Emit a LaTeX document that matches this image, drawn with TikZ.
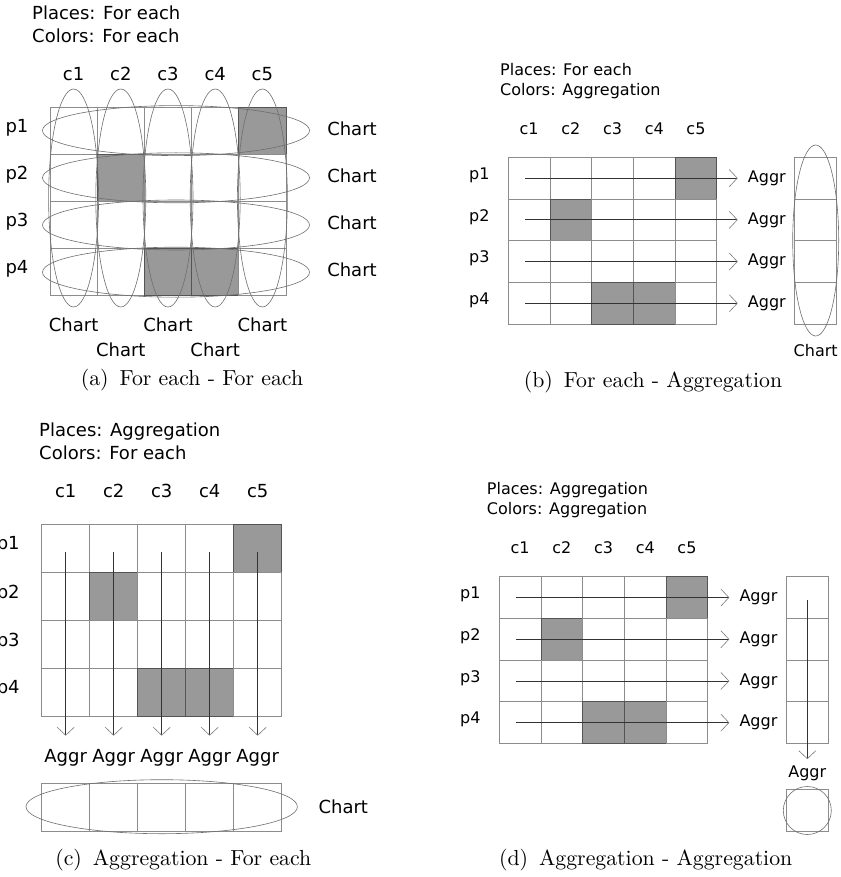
\documentclass[tikz,border=0pt]{standalone}
\usepackage{fontspec}
\newfontfamily\dvs{DejaVu Sans}
\newfontfamily\capfont{lmroman10-regular}[Extension=.otf]
\usetikzlibrary{arrows.meta}
\definecolor{cshade}{HTML}{999999}
\definecolor{cring}{HTML}{6E6E6E}
\definecolor{cgrey}{HTML}{7A7A7A}
\definecolor{cdark}{HTML}{333333}
\tikzset{
  every picture/.style={x=1pt, y=-1pt},
  cell/.style={draw=#1!55!black, fill=#1, line width=0.9pt, inner sep=0pt},
  lbl/.style={font=\dvs\fontsize{18}{23}\selectfont, inner sep=0pt},
  panelsmall/.style={lbl/.append style={font=\dvs\fontsize{16}{20}\selectfont}},
  head/.style={lbl, align=left, anchor=west},
  ring/.style={draw=cring, line width=0.6pt},
  arrow/.style={-{Straight Barb[length=8pt, width=17pt, color=cgrey, line width=0.6pt]}, draw=cdark, line width=0.8pt},
  caption/.style={font=\capfont\fontsize{21.8}{24}\selectfont, inner sep=0pt},
}
\newcommand{\pgrid}[2]{% prefix, cell size
  \foreach \r/\row in {1/{white,white,white,white,cshade}, 2/{white,cshade,white,white,white},
                       3/{white,white,white,white,white}, 4/{white,white,cshade,cshade,white}}
    \foreach \f [count=\c] in \row
      \node[cell=\f, minimum size=#2pt] (#1\r\c) at ({(\c-0.5)*#2}, {(\r-0.5)*#2}) {};
}
\newcommand{\plabels}[3]{% prefix, cell size, offset
  \foreach \c in {1,...,5} \node[lbl] (#1c\c) at ({(\c-0.5)*#2}, -#3) {c\c};
  \foreach \r in {1,...,4} \node[lbl] (#1p\r) at (-#3, {(\r-0.5)*#2-3}) {p\r};
}

\begin{document}
\begin{tikzpicture}
  \useasboundingbox (0,0) rectangle (840,877);
  % (a) for each / for each
  \begin{scope}[shift={(50,107)}]
    \node[head] (ahead) at (-18,-82.5) {Places: For each\\Colors: For each};
    \pgrid{a}{47.2}
    \plabels{a}{47.2}{33}
    \foreach \c in {1,...,5} \draw[ring] ({(\c-0.5)*47.2},91) ellipse [x radius=25, y radius=109];
    \foreach \r in {1,...,4} {
      \draw[ring] (126,{(\r-0.5)*47.2}) ellipse [x radius=133.5, y radius=25];
      \node[lbl] (achr\r) at (302,{(\r-0.5)*47.2-2}) {Chart};
    }
    \foreach \c/\y in {1/218,2/243,3/218,4/243,5/218} \node[lbl] (achc\c) at ({(\c-0.5)*47.2},\y) {Chart};
    \node[caption] (acap) at (142,273) {(a)\hspace{0.5em}For each - For each};
  \end{scope}
  % (b) for each / aggregation
  \begin{scope}[shift={(508.3,157.3)}, panelsmall]
    \node[head] (bhead) at (-8.3,-76.6) {Places: For each\\Colors: Aggregation};
    \pgrid{b}{41.7}
    \plabels{b}{41.7}{29}
    \foreach \r in {1,...,4} {
      \coordinate (bst\r) at (16.7,{(\r-0.5)*41.7});
      \node[lbl, anchor=west] (bag\r) at (239.4,{(\r-0.5)*41.7}) {Aggr};
      \draw[arrow, shorten >=10pt] (bst\r) -- (bag\r);
      \node[cell=white, minimum size=41.7pt] (bout\r) at (307.4,{(\r-0.5)*41.7}) {};
    }
    \draw[ring] (307.4,83.2) ellipse [x radius=23, y radius=95.5];
    \node[lbl] (bchart) at (307.4,193.7) {Chart};
    \node[caption] (bcap) at (144.7,224.4) {(b)\hspace{0.5em}For each - Aggregation};
  \end{scope}
  % (c) aggregation / for each
  \begin{scope}[shift={(41.7,524.3)}]
    \node[head] (chead) at (-2.7,-83) {Places: Aggregation\\Colors: For each};
    \pgrid{c}{48}
    \plabels{c}{48}{33.5}
    \foreach \c in {1,...,5} {
      \coordinate (cst\c) at ({(\c-0.5)*48},27.4);
      \node[lbl] (cag\c) at ({(\c-0.5)*48},234) {Aggr};
      \draw[arrow, shorten >=14pt] (cst\c) -- (cag\c);
      \node[cell=white, minimum size=48pt] (cout\c) at ({(\c-0.5)*48},282.9) {};
    }
    \draw[ring] (120,282.4) ellipse [x radius=135.7, y radius=27];
    \node[lbl] (cchart) at (301.6,282.4) {Chart};
    \node[caption] (ccap) at (141.6,335.7) {(c)\hspace{0.5em}Aggregation - For each};
  \end{scope}
  % (d) aggregation / aggregation
  \begin{scope}[shift={(499.3,576.7)}, panelsmall]
    \node[head] (dhead) at (-12.6,-76.7) {Places: Aggregation\\Colors: Aggregation};
    \pgrid{d}{41.7}
    \plabels{d}{41.7}{29}
    \foreach \r in {1,...,4} {
      \coordinate (dst\r) at (16.7,{(\r-0.5)*41.7});
      \node[lbl, anchor=west] (dag\r) at (240,{(\r-0.5)*41.7}) {Aggr};
      \draw[arrow, shorten >=10pt] (dst\r) -- (dag\r);
      \node[cell=white, minimum size=41.7pt] (dout\r) at (308,{(\r-0.5)*41.7}) {};
    }
    \coordinate (dst) at (308,23.3);
    \node[lbl] (dag) at (308,196.6) {Aggr};
    \draw[arrow, shorten >=6.5pt] (dst) -- (dag);
    \node[cell=white, minimum size=41.3pt] (dres) at (308,233.8) {};
    \draw[ring] (dres.center) circle [radius=24];
    \node[caption] (dcap) at (146.4,283.3) {(d)\hspace{0.5em}Aggregation - Aggregation};
  \end{scope}
\end{tikzpicture}
\end{document}
